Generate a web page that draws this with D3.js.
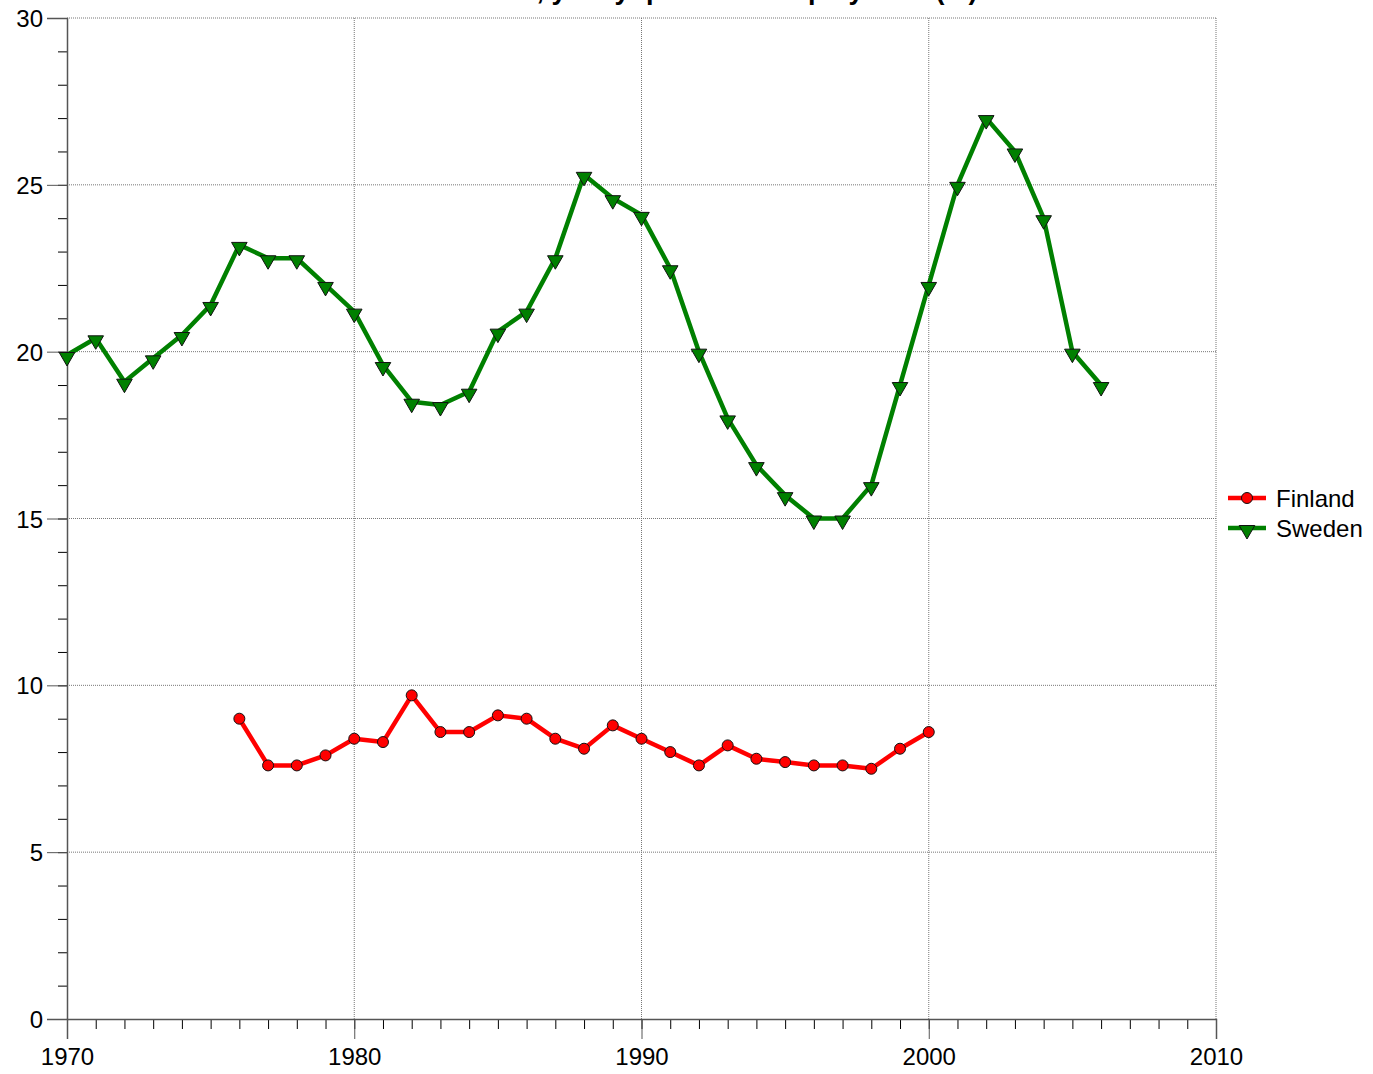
<!DOCTYPE html>
<html>
<head>
<meta charset="utf-8">
<script src="https://cdn.jsdelivr.net/npm/d3@7"></script>
<style>
  body { margin: 0; background: #fff; }
  svg { font-family: "Liberation Sans", Arial, sans-serif; }
</style>
</head>
<body>
<div id="chart"></div>
<script>
const finYears = d3.range(1976, 2001);
const finValues = [9.0, 7.6, 7.6, 7.9, 8.4, 8.3, 9.7, 8.6, 8.6, 9.1, 9.0, 8.4, 8.1, 8.8, 8.4,
  8.0, 7.6, 8.2, 7.8, 7.7, 7.6, 7.6, 7.5, 8.1, 8.6];
const sweYears = d3.range(1970, 2007);
const sweValues = [19.9, 20.4, 19.1, 19.8, 20.5, 21.4, 23.2, 22.8, 22.8, 22.0, 21.2, 19.6, 18.5,
  18.4, 18.8, 20.6, 21.2, 22.8, 25.3, 24.6, 24.1, 22.5, 20.0, 18.0, 16.6, 15.7, 15.0, 15.0,
  16.0, 19.0, 22.0, 25.0, 27.0, 26.0, 24.0, 20.0, 19.0];
const xTicks = [1970, 1980, 1990, 2000, 2010];
const yTicks = [0, 5, 10, 15, 20, 25, 30];
const seriesNames = ['Finland', 'Sweden'];
const title = 'Part-time rate, yearly: part-time employment (%)';

const width = 1373;
const height = 1074;
const margin = { top: 18, right: 157, bottom: 55, left: 67 };
const innerWidth = width - margin.left - margin.right;
const innerHeight = height - margin.top - margin.bottom;

const svg = d3.select('#chart')
  .append('svg')
  .attr('width', width)
  .attr('height', height);

const g = svg.append('g')
  .attr('transform', `translate(${margin.left},${margin.top})`);

const x = d3.scaleLinear().domain([1970, 2010]).range([0, innerWidth]);
const y = d3.scaleLinear().domain([0, 30]).range([innerHeight, 0]);

// title, mostly clipped above the page
svg.append('text')
  .attr('x', 670)
  .attr('y', -1)
  .attr('text-anchor', 'middle')
  .style('font-size', '27px')
  .style('font-weight', 'bold')
  .text(title);

// grid
g.append('g')
  .selectAll('line')
  .data(xTicks.slice(1))
  .enter()
  .append('line')
  .attr('x1', (d) => x(d))
  .attr('x2', (d) => x(d))
  .attr('y1', 0)
  .attr('y2', innerHeight)
  .attr('stroke', '#777')
  .attr('stroke-dasharray', '1,1');

g.append('g')
  .selectAll('line')
  .data(yTicks.slice(1))
  .enter()
  .append('line')
  .attr('x1', 0)
  .attr('x2', innerWidth)
  .attr('y1', (d) => y(d))
  .attr('y2', (d) => y(d))
  .attr('stroke', '#777')
  .attr('stroke-dasharray', '1,1');

// y axis: minor then major
g.append('g')
  .call(d3.axisLeft(y).tickValues(d3.range(0, 31)).tickSize(9).tickFormat(''))
  .call((a) => a.select('.domain').remove());

const yAxis = g.append('g')
  .call(d3.axisLeft(y).tickValues(yTicks).tickSize(20).tickPadding(4));
yAxis.select('.domain').attr('stroke', '#555').attr('stroke-width', 1.5);
yAxis.selectAll('text').style('font-size', '24px').attr('dy', '0.36em');
yAxis.selectAll('line').attr('stroke', '#555');

// x axis: minor then major
g.append('g')
  .attr('transform', `translate(0,${innerHeight})`)
  .call(d3.axisBottom(x).tickValues(d3.range(1970, 2011)).tickSize(10).tickFormat(''))
  .call((a) => a.select('.domain').remove());

const xAxis = g.append('g')
  .attr('transform', `translate(0,${innerHeight})`)
  .call(d3.axisBottom(x).tickValues(xTicks).tickSize(20).tickPadding(9).tickFormat(d3.format('d')));
xAxis.select('.domain').attr('stroke', '#555').attr('stroke-width', 1.5);
xAxis.selectAll('text').style('font-size', '24px');
xAxis.selectAll('line').attr('stroke', '#555');

const line = d3.line().x((d) => x(d[0])).y((d) => y(d[1]));
const finData = finYears.map((yr, i) => [yr, finValues[i]]);
const sweData = sweYears.map((yr, i) => [yr, sweValues[i]]);

const triangle = d3.symbol().type(d3.symbolTriangle).size(105);

g.append('path')
  .datum(sweData)
  .attr('d', line)
  .attr('fill', 'none')
  .attr('stroke', '#008000')
  .attr('stroke-width', 4.5)
  .attr('stroke-linejoin', 'round');

g.selectAll('.swe')
  .data(sweData)
  .enter()
  .append('path')
  .attr('class', 'swe')
  .attr('d', triangle)
  .attr('transform', (d) => `translate(${x(d[0])},${y(d[1]) + 2}) rotate(180)`)
  .attr('fill', '#008000')
  .attr('stroke', '#111')
  .attr('stroke-width', 1);

g.append('path')
  .datum(finData)
  .attr('d', line)
  .attr('fill', 'none')
  .attr('stroke', '#ff0000')
  .attr('stroke-width', 4.5)
  .attr('stroke-linejoin', 'round');

g.selectAll('.fin')
  .data(finData)
  .enter()
  .append('circle')
  .attr('class', 'fin')
  .attr('cx', (d) => x(d[0]))
  .attr('cy', (d) => y(d[1]))
  .attr('r', 5.5)
  .attr('fill', '#ff0000')
  .attr('stroke', '#111')
  .attr('stroke-width', 1);

// legend
const legend = svg.append('g').attr('transform', 'translate(1228,498)');
const colors = ['#ff0000', '#008000'];
seriesNames.forEach((name, i) => {
  const row = legend.append('g').attr('transform', `translate(0,${i * 30})`);
  row.append('line')
    .attr('x1', 0).attr('x2', 38)
    .attr('stroke', colors[i])
    .attr('stroke-width', 4.5);
  if (i === 0) {
    row.append('circle').attr('cx', 19).attr('r', 5.5)
      .attr('fill', colors[i]).attr('stroke', '#111');
  } else {
    row.append('path').attr('d', triangle)
      .attr('transform', 'translate(19,2) rotate(180)')
      .attr('fill', colors[i]).attr('stroke', '#111');
  }
  row.append('text')
    .attr('x', 48)
    .attr('y', 9)
    .style('font-size', '24px')
    .text(name);
});
</script>
</body>
</html>
